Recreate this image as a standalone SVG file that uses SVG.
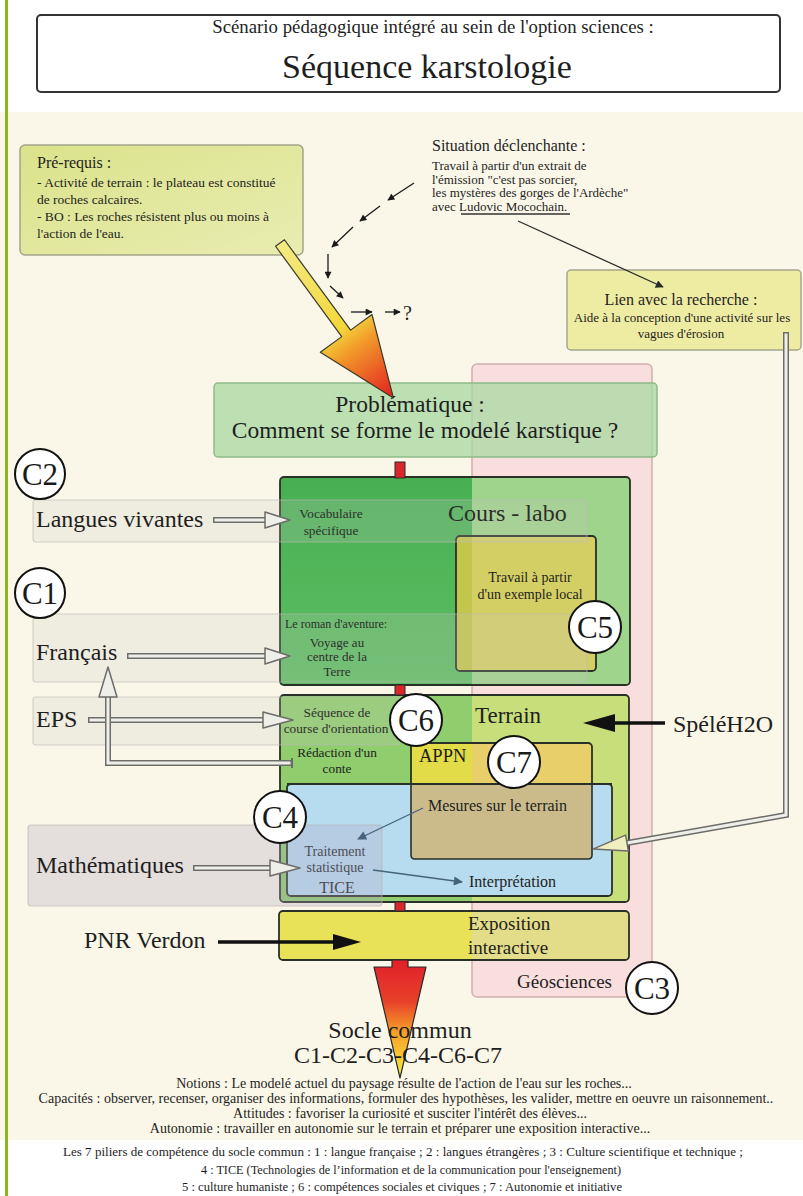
<svg xmlns="http://www.w3.org/2000/svg" width="803" height="1196" viewBox="0 0 803 1196">
<defs>
<style>
.t{font-family:"Liberation Serif","Times New Roman",Times,serif;fill:#1e1e1e}
.k{fill:#000}
.m{text-anchor:middle}
.box{stroke:#2a2f28;stroke-width:1.8}
.ol{fill:none;stroke:#2a2f28;stroke-width:1.8}
.band{fill:#c8cac4;fill-opacity:.22;stroke:#bdbdb8;stroke-opacity:.6;stroke-width:1.2}
.ho{fill:none;stroke:#6c6c6a;stroke-width:6}
.hi{fill:none;stroke:#efefe9;stroke-width:3}
.hh{fill:#efefe9;stroke:#6c6c6a;stroke-width:1.5;stroke-linejoin:round}
.circ{fill:#fff;stroke:#111;stroke-width:2}
.ct{font-family:"Liberation Serif","Times New Roman",Times,serif;font-size:31px;fill:#1a1a1a;text-anchor:middle}
.dash{stroke:#1a1a1a;stroke-width:1.3;fill:none;marker-end:url(#ahS)}
.bg{stroke:#46647c;stroke-width:1.3;fill:none;marker-end:url(#ahB)}
.bar{fill:#d8262c;stroke:#2a2a2a;stroke-width:1}
</style>
<marker id="ahS" viewBox="0 0 10 10" refX="9" refY="5" markerWidth="8" markerHeight="7" markerUnits="userSpaceOnUse" orient="auto"><path d="M0,0 L10,5 L0,10 z" fill="#1a1a1a"/></marker>
<marker id="ahB" viewBox="0 0 10 10" refX="9" refY="5" markerWidth="11" markerHeight="9" markerUnits="userSpaceOnUse" orient="auto"><path d="M0,0 L10,5 L0,10 z" fill="#46647c"/></marker>
<marker id="ahD" viewBox="0 0 10 10" refX="9" refY="5" markerWidth="10" markerHeight="8" markerUnits="userSpaceOnUse" orient="auto"><path d="M0,0 L10,5 L0,10 z" fill="#2a2a2a"/></marker>
<clipPath id="geo"><rect x="472" y="364" width="180" height="633"/></clipPath>
<linearGradient id="gPre" x1="0" y1="0" x2="1" y2="1"><stop offset="0" stop-color="#dae38a"/><stop offset="1" stop-color="#e9ecb1"/></linearGradient>
<linearGradient id="gCours" x1="0" y1="0" x2="0" y2="1"><stop offset="0" stop-color="#47af52"/><stop offset="1" stop-color="#5fbe62"/></linearGradient>
<linearGradient id="gBig" gradientUnits="userSpaceOnUse" x1="0" y1="0" x2="190" y2="0"><stop offset="0" stop-color="#f3ea84"/><stop offset="0.55" stop-color="#f3d83c"/><stop offset="0.68" stop-color="#f29a2a"/><stop offset="1" stop-color="#e2211f"/></linearGradient>
<linearGradient id="gDown" gradientUnits="userSpaceOnUse" x1="0" y1="960" x2="0" y2="1078"><stop offset="0" stop-color="#e0202a"/><stop offset="0.35" stop-color="#e8402a"/><stop offset="0.6" stop-color="#f59c2a"/><stop offset="1" stop-color="#f8ef3a"/></linearGradient>
</defs>

<g id="background">
<rect x="0" y="0" width="803" height="1196" fill="#ffffff"/>
<rect x="0" y="112" width="803" height="1028" fill="#faf7e8"/>
<rect x="5" y="0" width="3" height="1196" fill="#8db51f"/>
</g>

<g id="title">
<rect x="37" y="15" width="743" height="77" rx="4" fill="#fff" stroke="#333" stroke-width="2"/>
<text class="t m" x="433" y="33" font-size="18.8">Scénario pédagogique intégré au sein de l'option sciences :</text>
<text class="t m" x="427" y="78" font-size="34">Séquence karstologie</text>
</g>

<g id="geosciences">
<rect x="472" y="364" width="180" height="633" rx="5" fill="#f9dede" stroke="#cfb0b0" stroke-width="1.5"/>
<text class="t" x="517" y="988" font-size="19" fill="#444">Géosciences</text>
</g>

<g id="problematique">
<rect x="214" y="383" width="443" height="74" rx="4" fill="#a8d8a2" fill-opacity="0.75" stroke="#8dbb8a" stroke-width="1.5"/>
<text class="t m" x="410" y="412" font-size="23.5">Problématique :</text>
<text class="t m" x="425" y="438" font-size="23.5">Comment se forme le modelé karstique ?</text>
</g>

<g id="cours-labo">
<rect x="280" y="477" width="350" height="208" rx="4" fill="url(#gCours)"/>
<rect x="281" y="478" width="348" height="206" fill="#9fd48c" clip-path="url(#geo)"/>
<rect x="280" y="477" width="350" height="208" rx="4" class="ol"/>
<text class="t k" x="448" y="521" font-size="24">Cours - labo</text>
<text class="t k" x="331" y="518" font-size="13.3" text-anchor="middle">Vocabulaire</text>
<text class="t k" x="331" y="535" font-size="13.3" text-anchor="middle">spécifique</text>
<text class="t k" x="285" y="628" font-size="12">Le roman d'aventure:</text>
<text class="t k" x="337" y="647" font-size="13" text-anchor="middle">Voyage au</text>
<text class="t k" x="337" y="661" font-size="13" text-anchor="middle">centre de la</text>
<text class="t k" x="337" y="676" font-size="13" text-anchor="middle">Terre</text>
</g>

<g id="exemple-local">
<rect x="456" y="536" width="140" height="135" rx="4" fill="#c3c64c"/>
<rect x="457" y="537" width="138" height="133" fill="#d4cf64" clip-path="url(#geo)"/>
<rect x="456" y="536" width="140" height="135" rx="4" class="ol"/>
<text class="t m" x="530" y="582" font-size="14">Travail à partir</text>
<text class="t m" x="530" y="599" font-size="14">d'un exemple local</text>
</g>

<g id="langues-vivantes">
<rect x="33" y="500" width="554" height="42" rx="3" class="band"/>
<text class="t" x="36" y="527" font-size="24">Langues vivantes</text>
</g>

<g id="francais">
<rect x="33" y="614" width="554" height="68" rx="3" class="band"/>
<text class="t" x="36" y="660" font-size="24">Français</text>
</g>

<g id="terrain">
<rect x="280" y="695" width="349" height="207" rx="4" fill="#8fcd6d"/>
<rect x="281" y="696" width="347" height="205" fill="#c8de7b" clip-path="url(#geo)"/>
<rect x="280" y="695" width="349" height="207" rx="4" class="ol"/>
<text class="t" x="475" y="723" font-size="23">Terrain</text>
<text class="t k" x="337" y="717" font-size="13.3" text-anchor="middle">Séquence de</text>
<text class="t k" x="336" y="733" font-size="13.3" text-anchor="middle">course d'orientation</text>
<text class="t m" x="337" y="757" font-size="13.3">Rédaction d'un</text>
<text class="t m" x="337" y="773" font-size="13.3">conte</text>
</g>

<g id="appn">
<rect x="411" y="743" width="181" height="116" rx="4" fill="#e2dc48"/>
<rect x="412" y="744" width="179" height="114" fill="#e9cf6a" clip-path="url(#geo)"/>
<rect x="411" y="743" width="181" height="116" rx="4" class="ol"/>
<text class="t" x="419" y="762" font-size="18.5">APPN</text>
</g>

<g id="traitement">
<rect x="287" y="784" width="325" height="112" rx="4" class="box" fill="#b7dbef"/>
<path d="M411,784 V855 Q411,859 415,859 H588 Q592,859 592,855 V784 Z" fill="#cbbb8b"/>
<path d="M411,784 V855 Q411,859 415,859 H588 Q592,859 592,855 V784" fill="none" stroke="#2a2f28" stroke-width="1.6"/>
<line x1="287" y1="784" x2="612" y2="784" stroke="#2a2f28" stroke-width="1.8"/>
<text class="t" x="428" y="811" font-size="16">Mesures sur le terrain</text>
<text class="t" x="469" y="887" font-size="16" fill="#1f2d3d">Interprétation</text>
<text class="t m" x="335" y="856" font-size="14" fill="#1f2d3d">Traitement</text>
<text class="t m" x="335" y="872" font-size="14" fill="#1f2d3d">statistique</text>
<text class="t m" x="337" y="893" font-size="16" fill="#1f2d3d">TICE</text>
</g>

<g id="eps">
<rect x="33" y="697" width="367" height="48" rx="3" class="band"/>
<text class="t" x="36" y="727" font-size="24">EPS</text>
</g>

<g id="mathematiques">
<rect x="28" y="825" width="354" height="81" rx="3" fill="#b4a8c4" fill-opacity="0.3" stroke="#bdb0b0" stroke-opacity="0.6" stroke-width="1.2"/>
<text class="t" x="36" y="873" font-size="24">Mathématiques</text>
</g>

<g id="exposition">
<rect x="279" y="911" width="350" height="49" rx="4" fill="#e7e257"/>
<rect x="280" y="912" width="348" height="47" fill="#e3dc88" clip-path="url(#geo)"/>
<rect x="279" y="911" width="350" height="49" rx="4" class="ol"/>
<text class="t" x="468" y="930" font-size="19">Exposition</text>
<text class="t" x="468" y="954" font-size="19">interactive</text>
</g>

<g id="pre-requis">
<rect x="20" y="145" width="283" height="110" rx="5" fill="url(#gPre)" stroke="#a2a58a" stroke-width="1.5"/>
<text class="t" x="37" y="168" font-size="16">Pré-requis :</text>
<text class="t" x="37" y="187" font-size="13.5">- Activité de terrain : le plateau est constitué</text>
<text class="t" x="37" y="204" font-size="13.5">de roches calcaires.</text>
<text class="t" x="37" y="221" font-size="13.5">- BO : Les roches résistent plus ou moins à</text>
<text class="t" x="37" y="238" font-size="13.5">l'action de l'eau.</text>
</g>

<g id="situation">
<text class="t" x="432" y="151" font-size="16">Situation déclenchante :</text>
<text class="t" x="432" y="170" font-size="13">Travail à partir d'un extrait de</text>
<text class="t" x="432" y="183.5" font-size="13">l'émission "c'est pas sorcier,</text>
<text class="t" x="432" y="197" font-size="13">les mystères des gorges de l'Ardèche"</text>
<text class="t" x="432" y="210.5" font-size="13">avec Ludovic Mocochain.</text>
<line x1="461" y1="214" x2="570" y2="214" stroke="#333" stroke-width="1.5"/>
<text class="t" x="403" y="320" font-size="20">?</text>
</g>

<g id="lien-recherche">
<rect x="567" y="270" width="234" height="80" rx="4" fill="#eeeba3" stroke="#a5a68a" stroke-width="1.5"/>
<text class="t m" x="681" y="305" font-size="16">Lien avec la recherche :</text>
<text class="t m" x="682" y="322" font-size="13">Aide à la conception d'une activité sur les</text>
<text class="t m" x="681" y="338" font-size="13">vagues d'érosion</text>
</g>

<g id="speleh2o">
<text class="t" x="673" y="732" font-size="24">SpéléH2O</text>
</g>

<g id="pnr-verdon">
<text class="t" x="84" y="948" font-size="24">PNR Verdon</text>
</g>

<g id="socle-commun-notes">
<text class="t m" x="404" y="1088" font-size="14">Notions : Le modelé actuel du paysage résulte de l'action de l'eau sur les roches...</text>
<text class="t m" x="406" y="1103" font-size="14">Capacités : observer, recenser, organiser des informations, formuler des hypothèses, les valider, mettre en oeuvre un raisonnement..</text>
<text class="t m" x="410" y="1118" font-size="14">Attitudes : favoriser la curiosité et susciter l'intérêt des élèves...</text>
<text class="t m" x="400" y="1133" font-size="14">Autonomie : travailler en autonomie sur le terrain et préparer une exposition interactive...</text>
<text class="t m" x="403" y="1156" font-size="12.5" fill="#444" textLength="680" lengthAdjust="spacingAndGlyphs">Les 7 piliers de compétence du socle commun : 1 : langue française ; 2 : langues étrangères ; 3 : Culture scientifique et technique ;</text>
<text class="t m" x="411" y="1174" font-size="12.5" fill="#444" textLength="420" lengthAdjust="spacingAndGlyphs">4 : TICE (Technologies de l’information et de la communication pour l'enseignement)</text>
<text class="t m" x="402" y="1191" font-size="12.5" fill="#444" textLength="440" lengthAdjust="spacingAndGlyphs">5 : culture humaniste ; 6 : compétences sociales et civiques ; 7 : Autonomie et initiative</text>
</g>

<g id="connectors">
<polygon points="0,-5.5 112,-5.5 112,-32 192,0 112,32 112,5.5 0,5.5" transform="translate(280,243) rotate(53.8)" fill="url(#gBig)" stroke="#3a3a2a" stroke-width="1.2" stroke-linejoin="round"/>
<line class="dash" x1="414" y1="183" x2="388" y2="200"/>
<line class="dash" x1="380" y1="206" x2="360" y2="221"/>
<line class="dash" x1="353" y1="227" x2="332" y2="247"/>
<line class="dash" x1="328" y1="254" x2="328" y2="278"/>
<line class="dash" x1="330" y1="286" x2="343" y2="298"/>
<line class="dash" x1="351" y1="312" x2="372" y2="312"/>
<line class="dash" x1="385" y1="312" x2="400" y2="312"/>
<line x1="518" y1="221" x2="663" y2="287" stroke="#2a2a2a" stroke-width="1.3" marker-end="url(#ahD)"/>
<rect class="bar" x="395" y="462" width="10" height="16"/>
<rect class="bar" x="395" y="685" width="10" height="10"/>
<rect class="bar" x="395" y="902" width="10" height="9"/>
<path d="M392,960 H408 V967 H426 L400,1078 L374,967 H392 Z" fill="url(#gDown)" stroke="#2a2a2a" stroke-width="1.2" stroke-linejoin="round"/>
<path class="ho" d="M213,520 H266"/><path class="hi" d="M214.5,520 H266"/><polygon class="hh" points="265,512 290,520 265,528"/>
<path class="ho" d="M127,656 H266"/><path class="hi" d="M128.5,656 H266"/><polygon class="hh" points="265,648 290,656 265,664"/>
<path class="ho" d="M88,720 H264"/><path class="hi" d="M89.5,720 H264"/><polygon class="hh" points="263,712 293,720 263,728"/>
<path class="ho" d="M193,868 H271"/><path class="hi" d="M194.5,868 H271"/><polygon class="hh" points="270,860 300,868 270,876"/>
<path class="ho" d="M292,763 H108 V696"/><path class="hi" d="M290.5,763 H108 V696"/><polygon class="hh" points="99,697 108,667 117,697"/>
<line x1="292" y1="758" x2="292" y2="768" stroke="#6c6c6a" stroke-width="2"/>
<path class="ho" d="M786,332 V815 L627,843"/><path class="hi" d="M786,333.5 V815 L627,843"/><polygon class="hh" points="625.6,835.1 593.5,848.9 628.4,850.9" style="fill:#f1efc0"/>
<line class="bg" x1="423" y1="808" x2="358" y2="839"/>
<line class="bg" x1="373" y1="870" x2="462" y2="882"/>
<line x1="665" y1="723" x2="612" y2="723" stroke="#111" stroke-width="3.5"/>
<polygon points="615,714 583,723 615,732" fill="#111"/>
<line x1="218" y1="942" x2="336" y2="942" stroke="#111" stroke-width="3.5"/>
<polygon points="333,934 361,942 333,950" fill="#111"/>
</g>

<g id="socle-commun">
<text class="t m" x="400" y="1038" font-size="24">Socle commun</text>
<text class="t m" x="398" y="1063" font-size="24">C1-C2-C3-C4-C6-C7</text>
</g>

<g id="C2"><circle class="circ" cx="40" cy="474" r="25"/><text class="ct" x="40" y="485">C2</text></g>
<g id="C1"><circle class="circ" cx="40" cy="593" r="25"/><text class="ct" x="40" y="604">C1</text></g>
<g id="C5"><circle class="circ" cx="595" cy="627" r="26"/><text class="ct" x="595" y="638">C5</text></g>
<g id="C6"><circle class="circ" cx="416" cy="720" r="26"/><text class="ct" x="416" y="731">C6</text></g>
<g id="C7"><circle class="circ" cx="514" cy="762" r="26"/><text class="ct" x="514" y="773">C7</text></g>
<g id="C4"><circle class="circ" cx="280" cy="817" r="26"/><text class="ct" x="280" y="828">C4</text></g>
<g id="C3"><circle class="circ" cx="652" cy="988" r="26"/><text class="ct" x="652" y="999">C3</text></g>
</svg>
